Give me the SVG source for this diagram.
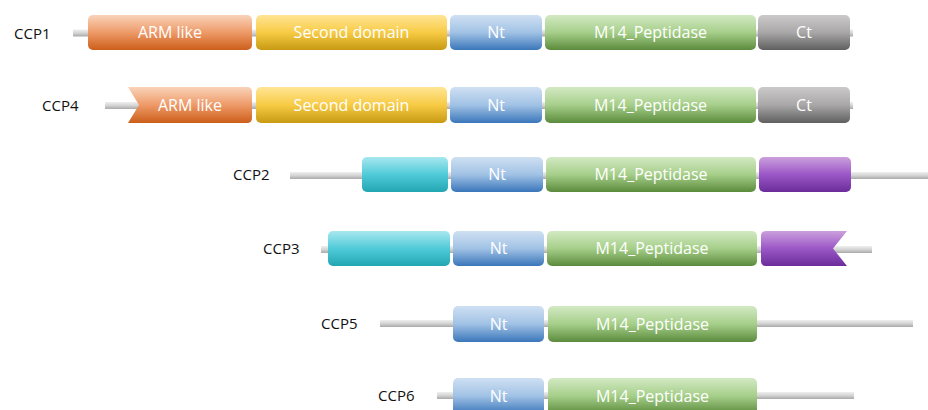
<svg xmlns="http://www.w3.org/2000/svg" width="928" height="410" viewBox="0 0 928 410">
<defs>
<linearGradient id="gLine" x1="0" y1="0" x2="0" y2="1">
<stop offset="0" stop-color="#efefef"/><stop offset="0.5" stop-color="#d4d4d4"/><stop offset="1" stop-color="#a9a9a9"/>
</linearGradient>
<linearGradient id="gOrange" x1="0" y1="0" x2="0" y2="1">
<stop offset="0" stop-color="#f9d3b9"/><stop offset="0.5" stop-color="#ee9a68"/><stop offset="1" stop-color="#cc5e1a"/>
</linearGradient>
<linearGradient id="gYellow" x1="0" y1="0" x2="0" y2="1">
<stop offset="0" stop-color="#ffe595"/><stop offset="0.5" stop-color="#f8cb45"/><stop offset="1" stop-color="#c79a12"/>
</linearGradient>
<linearGradient id="gBlue" x1="0" y1="0" x2="0" y2="1">
<stop offset="0" stop-color="#cfe0f2"/><stop offset="0.5" stop-color="#a1c2e5"/><stop offset="1" stop-color="#3a76ba"/>
</linearGradient>
<linearGradient id="gGreen" x1="0" y1="0" x2="0" y2="1">
<stop offset="0" stop-color="#d3e9c3"/><stop offset="0.5" stop-color="#a6cf8a"/><stop offset="1" stop-color="#5b8b3c"/>
</linearGradient>
<linearGradient id="gGrey" x1="0" y1="0" x2="0" y2="1">
<stop offset="0" stop-color="#cbc9c9"/><stop offset="0.5" stop-color="#a9a7a7"/><stop offset="1" stop-color="#5f5f5f"/>
</linearGradient>
<linearGradient id="gTeal" x1="0" y1="0" x2="0" y2="1">
<stop offset="0" stop-color="#a8e7ef"/><stop offset="0.5" stop-color="#50cbd8"/><stop offset="1" stop-color="#22a6b2"/>
</linearGradient>
<linearGradient id="gPurple" x1="0" y1="0" x2="0" y2="1">
<stop offset="0" stop-color="#cba0dc"/><stop offset="0.5" stop-color="#9b57c7"/><stop offset="1" stop-color="#6b2d9b"/>
</linearGradient>
</defs>
<style>
.bb{fill:url(#gLine)}
.lbl{font-family:"Open Sans","Liberation Sans",sans-serif;font-size:15px;fill:#111}
.dt{font-family:"Open Sans","Liberation Sans",sans-serif;font-size:16px;fill:#fff;text-anchor:middle}
.or{fill:url(#gOrange)}
.ye{fill:url(#gYellow)}
.bl{fill:url(#gBlue)}
.gr{fill:url(#gGreen)}
.gy{fill:url(#gGrey)}
.te{fill:url(#gTeal)}
.pu{fill:url(#gPurple)}
</style>
<g id="backbones">
<rect class="bb" x="73" y="29.5" width="780" height="7"/>
<rect class="bb" x="105" y="102" width="748" height="7"/>
<rect class="bb" x="290" y="172" width="638" height="7"/>
<rect class="bb" x="321" y="246" width="551" height="7"/>
<rect class="bb" x="380" y="320" width="533" height="7"/>
<rect class="bb" x="437" y="392" width="417" height="7"/>
</g>
<g id="CCP1">
<text class="lbl" x="14" y="38.5">CCP1</text>
<rect class="or" x="88" y="15" width="164" height="35" rx="5"/>
<text class="dt" x="170" y="38">ARM like</text>
<rect class="ye" x="256" y="15" width="191" height="35" rx="5"/>
<text class="dt" x="351.5" y="38">Second domain</text>
<rect class="bl" x="450" y="15" width="92" height="35" rx="5"/>
<text class="dt" x="496" y="38">Nt</text>
<rect class="gr" x="545" y="15" width="211" height="35" rx="5"/>
<text class="dt" x="650.5" y="38">M14_Peptidase</text>
<rect class="gy" x="758" y="15" width="92" height="35" rx="5"/>
<text class="dt" x="804" y="38">Ct</text>
</g>
<g id="CCP4">
<text class="lbl" x="42" y="110.5">CCP4</text>
<path class="or" d="M128,87 H247 Q252,87 252,92 V118 Q252,123 247,123 H128 L139,105 Z"/>
<text class="dt" x="190" y="110.5">ARM like</text>
<rect class="ye" x="256" y="87" width="191" height="36" rx="5"/>
<text class="dt" x="351.5" y="110.5">Second domain</text>
<rect class="bl" x="450" y="87" width="92" height="36" rx="5"/>
<text class="dt" x="496" y="110.5">Nt</text>
<rect class="gr" x="545" y="87" width="211" height="36" rx="5"/>
<text class="dt" x="650.5" y="110.5">M14_Peptidase</text>
<rect class="gy" x="758" y="87" width="92" height="36" rx="5"/>
<text class="dt" x="804" y="110.5">Ct</text>
</g>
<g id="CCP2">
<text class="lbl" x="233" y="180">CCP2</text>
<rect class="te" x="362" y="157" width="86" height="35" rx="5"/>
<rect class="bl" x="451" y="157" width="92" height="35" rx="5"/>
<text class="dt" x="497" y="180">Nt</text>
<rect class="gr" x="546" y="157" width="210" height="35" rx="5"/>
<text class="dt" x="651" y="180">M14_Peptidase</text>
<rect class="pu" x="759" y="157" width="92" height="35" rx="5"/>
</g>
<g id="CCP3">
<text class="lbl" x="263" y="254">CCP3</text>
<rect class="te" x="328" y="231" width="122" height="35" rx="5"/>
<rect class="bl" x="453" y="231" width="91" height="35" rx="5"/>
<text class="dt" x="498.5" y="254">Nt</text>
<rect class="gr" x="547" y="231" width="210" height="35" rx="5"/>
<text class="dt" x="652" y="254">M14_Peptidase</text>
<path class="pu" d="M766,231 H847 L833,248.5 L847,266 H766 Q761,266 761,261 V236 Q761,231 766,231 Z"/>
</g>
<g id="CCP5">
<text class="lbl" x="321" y="329">CCP5</text>
<rect class="bl" x="453" y="306" width="91" height="36" rx="5"/>
<text class="dt" x="498.5" y="329.5">Nt</text>
<rect class="gr" x="548" y="306" width="209" height="36" rx="5"/>
<text class="dt" x="652.5" y="329.5">M14_Peptidase</text>
</g>
<g id="CCP6">
<text class="lbl" x="378" y="401">CCP6</text>
<rect class="bl" x="453" y="378" width="91" height="36" rx="5"/>
<text class="dt" x="498.5" y="401.5">Nt</text>
<rect class="gr" x="548" y="378" width="209" height="36" rx="5"/>
<text class="dt" x="652.5" y="401.5">M14_Peptidase</text>
</g>
</svg>
